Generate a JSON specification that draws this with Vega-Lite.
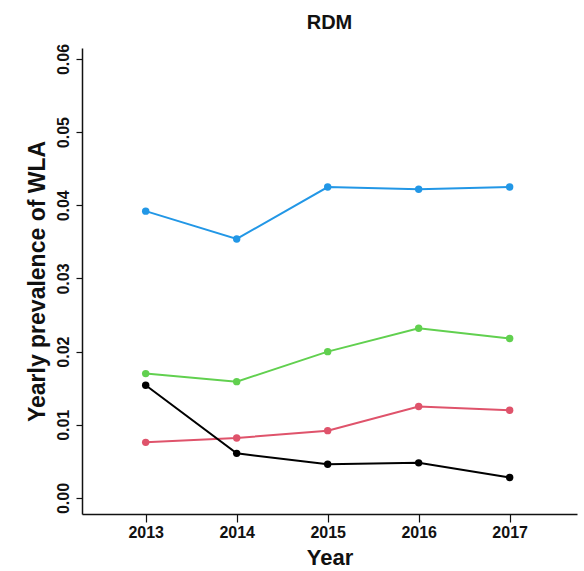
{
  "$schema": "https://vega.github.io/schema/vega-lite/v6.json",
  "autosize": {"type": "none"},
  "width": 495,
  "height": 466,
  "padding": {"left": 82, "top": 48, "right": 7, "bottom": 57},
  "background": "white",
  "config": {
    "view": {"stroke": null},
    "font": "Liberation Sans"
  },
  "title": {
    "text": "RDM",
    "font": "Liberation Sans",
    "fontSize": 20,
    "fontWeight": "bold",
    "color": "#111",
    "anchor": "middle",
    "baseline": "alphabetic",
    "offset": 18,
    "dy": 24
  },
  "data": {
    "values": [
      {"group": "A", "year": 2013, "value": 0.0392},
      {"group": "A", "year": 2014, "value": 0.0354},
      {"group": "A", "year": 2015, "value": 0.0425},
      {"group": "A", "year": 2016, "value": 0.0422},
      {"group": "A", "year": 2017, "value": 0.0425},
      {"group": "B", "year": 2013, "value": 0.0170},
      {"group": "B", "year": 2014, "value": 0.0159},
      {"group": "B", "year": 2015, "value": 0.0200},
      {"group": "B", "year": 2016, "value": 0.0232},
      {"group": "B", "year": 2017, "value": 0.0218},
      {"group": "C", "year": 2013, "value": 0.0076},
      {"group": "C", "year": 2014, "value": 0.0082},
      {"group": "C", "year": 2015, "value": 0.0092},
      {"group": "C", "year": 2016, "value": 0.0125},
      {"group": "C", "year": 2017, "value": 0.0120},
      {"group": "D", "year": 2013, "value": 0.0154},
      {"group": "D", "year": 2014, "value": 0.0061},
      {"group": "D", "year": 2015, "value": 0.0046},
      {"group": "D", "year": 2016, "value": 0.0048},
      {"group": "D", "year": 2017, "value": 0.0028}
    ]
  },
  "encoding": {
    "x": {
      "field": "year",
      "type": "quantitative",
      "scale": {"domain": [2012.3, 2017.74], "nice": false, "zero": false},
      "axis": {
        "title": "Year",
        "values": [2013, 2014, 2015, 2016, 2017],
        "format": "d",
        "grid": false,
        "domainColor": "#111",
        "domainWidth": 1.5,
        "tickColor": "#111",
        "tickSize": 8,
        "tickWidth": 1.2,
        "labelFont": "Liberation Sans",
        "labelFontSize": 16,
        "labelFontWeight": "bold",
        "labelColor": "#111",
        "labelPadding": 2,
        "labelFlush": false,
        "titleFont": "Liberation Sans",
        "titleFontSize": 22,
        "titleFontWeight": "bold",
        "titleColor": "#111",
        "titleBaseline": "alphabetic",
        "titleY": 50
      }
    },
    "y": {
      "field": "value",
      "type": "quantitative",
      "scale": {"domain": [-0.00219, 0.0615], "nice": false, "zero": false},
      "axis": {
        "title": "Yearly prevalence of WLA",
        "values": [0, 0.01, 0.02, 0.03, 0.04, 0.05, 0.06],
        "format": ".2f",
        "grid": false,
        "domainColor": "#111",
        "domainWidth": 1.5,
        "tickColor": "#111",
        "tickSize": 6,
        "tickWidth": 1.2,
        "labelAngle": -90,
        "labelAlign": "center",
        "labelBaseline": "alphabetic",
        "labelFont": "Liberation Sans",
        "labelFontSize": 16,
        "labelFontWeight": "bold",
        "labelColor": "#111",
        "labelPadding": 8,
        "labelFlush": false,
        "titleFont": "Liberation Sans",
        "titleFontSize": 23,
        "titleFontWeight": "bold",
        "titleColor": "#111",
        "titleBaseline": "alphabetic",
        "titleAlign": "center",
        "titleAngle": -90,
        "titleX": -38,
        "titleY": 233
      }
    },
    "color": {
      "field": "group",
      "type": "nominal",
      "scale": {"domain": ["A", "B", "C", "D"], "range": ["#2297E6", "#61D04F", "#DF536B", "#000000"]},
      "legend": null
    }
  },
  "layer": [
    {"mark": {"type": "line", "strokeWidth": 2}},
    {"mark": {"type": "point", "filled": true, "size": 55, "opacity": 1}}
  ]
}
